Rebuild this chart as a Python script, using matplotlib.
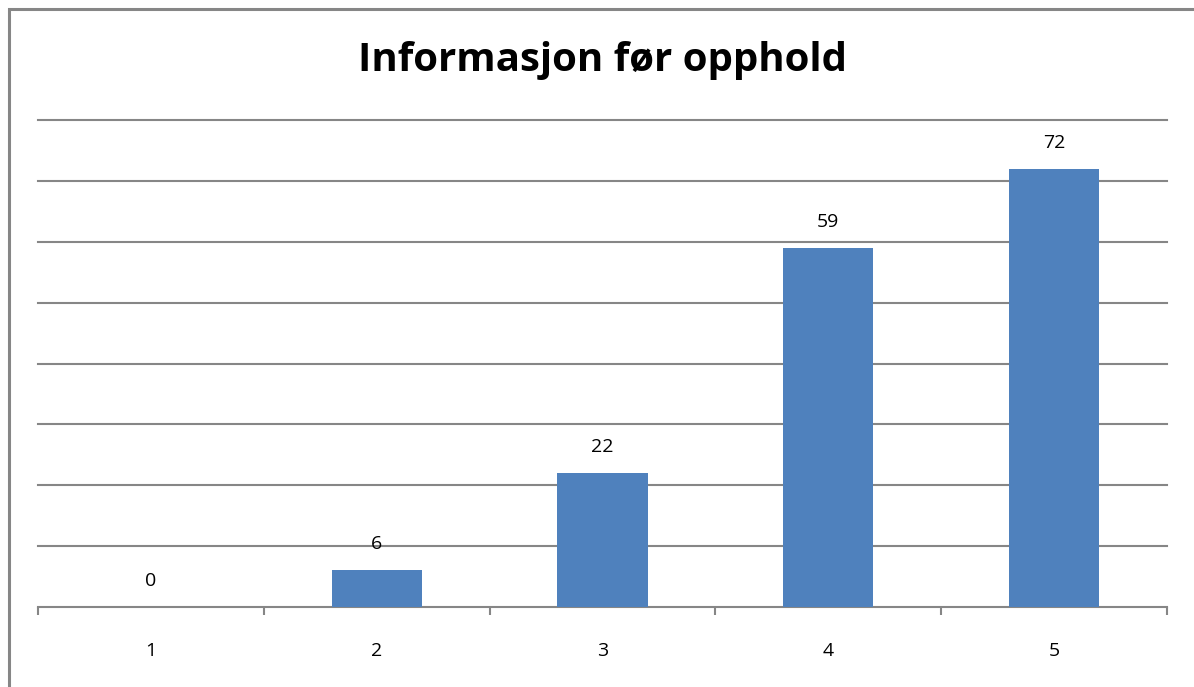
import matplotlib.pyplot as plt
from matplotlib.patches import Rectangle

categories = ["1", "2", "3", "4", "5"]
counts = [0, 6, 22, 59, 72]
title = "Informasjon før opphold"

plt.rcParams["font.family"] = ["Open Sans", "DejaVu Sans"]

fig = plt.figure(figsize=(11.94, 6.87), dpi=100)
W, H = 1194, 687

# ramme rundt hele diagrammet
fig.patches.append(Rectangle((8.5 / W, -0.1), 1.2, 1.1 - 9 / H,
                             transform=fig.transFigure, fill=False,
                             edgecolor="#868686", linewidth=2.2))

ax = fig.add_axes([38 / W, 1 - 607 / H, (1167 - 38) / W, (607 - 120) / H])
x = list(range(1, len(categories) + 1))
bars = ax.bar(x, counts, width=0.4, color="#4F81BD", zorder=3)

for xi, v in zip(x, counts):
    ax.text(xi, v + 4.3, str(v), ha="center", va="center", fontsize=14)

ax.set_xlim(0.5, len(categories) + 0.5)
ax.set_ylim(0, 80)
ax.set_yticks(range(10, 81, 10))
ax.yaxis.grid(True, color="#868686", linewidth=1.5)
for gl in ax.get_ygridlines():
    gl.set_clip_on(False)
ax.tick_params(axis="y", left=False, labelleft=False)

ax.set_xticks(x)
ax.set_xticklabels(categories, fontsize=14)
ax.tick_params(axis="x", which="major", length=0, pad=25)
ax.set_xticks([i + 0.5 for i in range(0, len(categories) + 1)], minor=True)
ax.tick_params(axis="x", which="minor", length=6, width=1.5, color="#868686",
               direction="out")

for s in ["top", "right", "left"]:
    ax.spines[s].set_visible(False)
ax.spines["bottom"].set_color("#868686")
ax.spines["bottom"].set_linewidth(1.5)

fig.text(603 / W, 1 - 60 / H, title, ha="center", va="center",
         fontsize=29, fontweight="bold")

plt.savefig("out.png", dpi=100)
